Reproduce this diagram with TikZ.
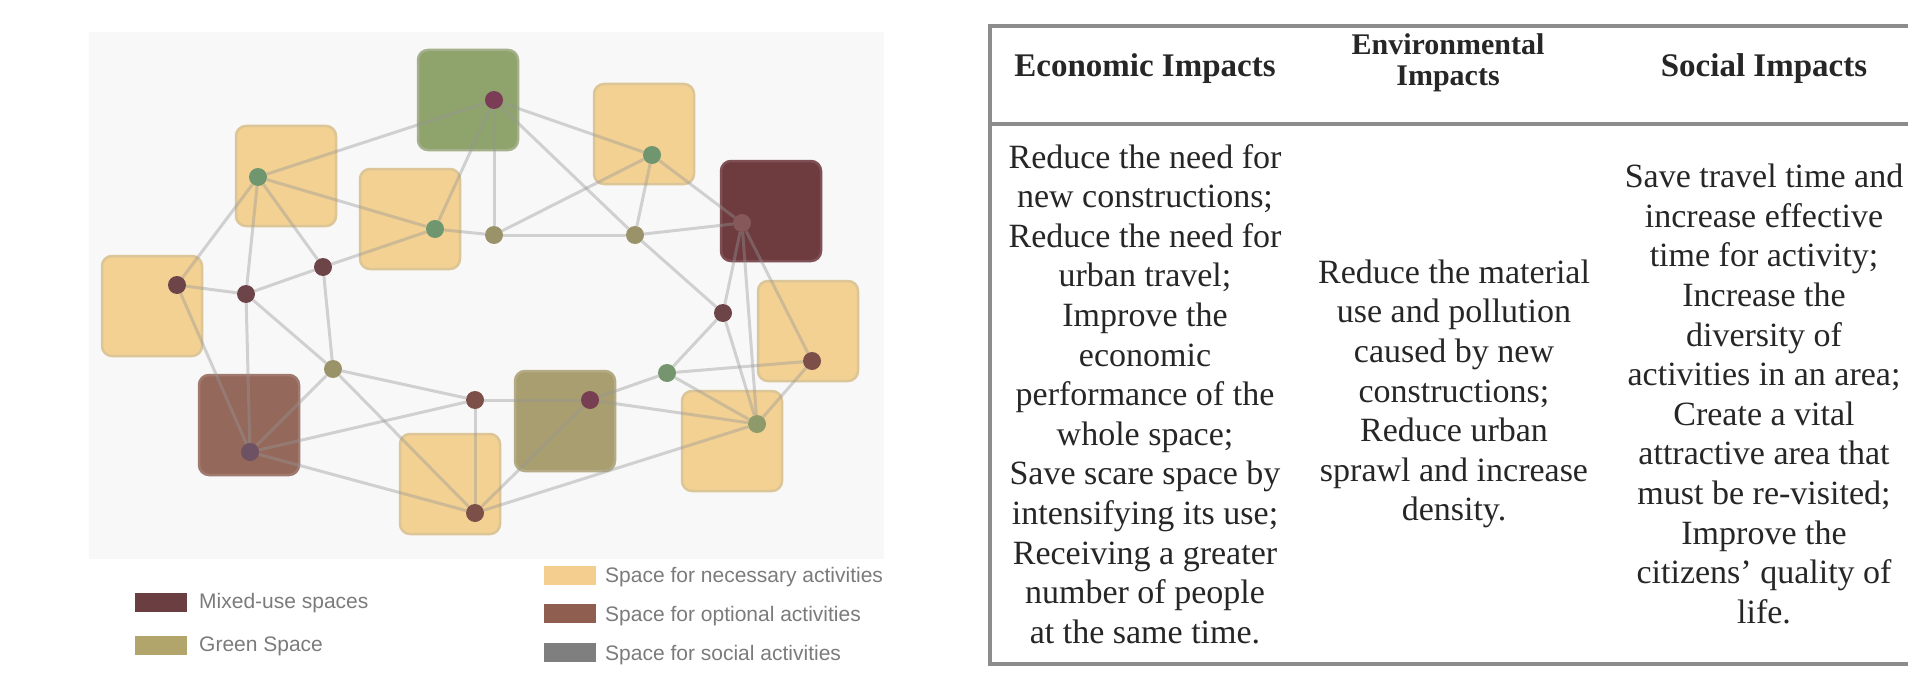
\documentclass[tikz,border=0pt]{standalone}
\usepackage{fontspec}
\setmainfont{Liberation Serif}
\newfontfamily\legendfont{Liberation Sans}
\definecolor{panelc}{HTML}{F8F8F8}
\definecolor{ysq}{HTML}{F2D193}
\definecolor{ysqb}{HTML}{DCC596}
\definecolor{gsq}{HTML}{8FA36C}
\definecolor{gsqb}{HTML}{A3B08A}
\definecolor{msq}{HTML}{6E3B3F}
\definecolor{msqb}{HTML}{7E5055}
\definecolor{bsq}{HTML}{94685A}
\definecolor{bsqb}{HTML}{A07A6E}
\definecolor{ksq}{HTML}{A89E70}
\definecolor{ksqb}{HTML}{B5AC85}
\definecolor{edgec}{HTML}{969696}
\definecolor{dgreen}{HTML}{6F966F}
\definecolor{dmaroon}{HTML}{6D4548}
\definecolor{dpurple}{HTML}{7B3D55}
\definecolor{dolive}{HTML}{9A9268}
\definecolor{dbrown}{HTML}{7C5048}
\definecolor{dpink}{HTML}{86585A}
\definecolor{dgrey}{HTML}{6C5262}
\definecolor{dogreen}{HTML}{8F9A6A}
\definecolor{swmix}{HTML}{6B3F42}
\definecolor{swgreen}{HTML}{B2A56C}
\definecolor{swnec}{HTML}{F4CE8E}
\definecolor{swopt}{HTML}{8F5E50}
\definecolor{swsoc}{HTML}{7F7F7F}
\definecolor{legtext}{HTML}{7B7B7B}
\definecolor{tlinec}{HTML}{8C8C8C}
\definecolor{bodyc}{HTML}{262626}
\pgfdeclarelayer{sqlayer}
\pgfdeclarelayer{edgelayer}
\pgfsetlayers{sqlayer,edgelayer,main}
\begin{document}
\begin{tikzpicture}[x=1pt,y=-1pt,
  sq/.style={rounded corners=10pt, minimum size=100pt, inner sep=0pt, line width=2.5pt},
  ysquare/.style={sq, fill=ysq, draw=ysqb},
  dot/.style={circle, minimum size=18pt, inner sep=0pt},
  edge/.style={draw=edgec, line width=3pt, opacity=0.4},
  sw/.style={minimum width=52pt, minimum height=19pt, inner sep=0pt},
  leg/.style={anchor=west, inner sep=0pt, text=legtext, font=\legendfont\fontsize{21}{24}\selectfont},
  tline/.style={draw=tlinec, line width=3.5pt},
  hdr/.style={align=center, inner sep=0pt, text=bodyc, font=\bfseries\fontsize{33}{28}\selectfont},
  hdrtwo/.style={align=center, inner sep=0pt, text=bodyc, font=\bfseries\fontsize{30}{31}\selectfont},
  body/.style={align=center, inner sep=0pt, text=bodyc, font=\fontsize{34}{39.6}\selectfont}]
\useasboundingbox (0,0) rectangle (1908,674);

% ---------- left panel ----------
\begin{pgfonlayer}{sqlayer}
\fill[panelc] (89,32) rectangle (884,559);
\node[sq, fill=gsq, draw=gsqb] (sqTop) at (468,100) {};
\node[ysquare] (sqA) at (286,176) {};
\node[ysquare] (sqB) at (410,219) {};
\node[ysquare] (sqC) at (644,134) {};
\node[sq, fill=msq, draw=msqb] (sqM) at (771,211) {};
\node[ysquare] (sqD) at (152,306) {};
\node[ysquare] (sqE) at (808,331) {};
\node[sq, fill=bsq, draw=bsqb] (sqBr) at (249,425) {};
\node[sq, fill=ksq, draw=ksqb] (sqK) at (565,421) {};
\node[ysquare] (sqF) at (732,441) {};
\node[ysquare] (sqG) at (450,484) {};
\end{pgfonlayer}

% dots
\node[dot, fill=dpurple] (dTop) at (494,100) {};
\node[dot, fill=dgreen] (dA) at (258,177) {};
\node[dot, fill=dgreen] (dB) at (435,229) {};
\node[dot, fill=dgreen] (dC) at (652,155) {};
\node[dot, fill=dpink] (dM) at (742,223) {};
\node[dot, fill=dmaroon] (dD) at (177,285) {};
\node[dot, fill=dbrown] (dE) at (812,361) {};
\node[dot, fill=dgrey] (dBr) at (250,452) {};
\node[dot, fill=dpurple!80!dmaroon] (dK) at (590,400) {};
\node[dot, fill=dogreen] (dF) at (757,424) {};
\node[dot, fill=dbrown] (dG) at (475,513) {};
\node[dot, fill=dmaroon] (f1) at (246,294) {};
\node[dot, fill=dmaroon] (f2) at (323,267) {};
\node[dot, fill=dolive] (f3) at (494,235) {};
\node[dot, fill=dolive] (f4) at (635,235) {};
\node[dot, fill=dolive] (f5) at (333,369) {};
\node[dot, fill=dmaroon] (f6) at (723,313) {};
\node[dot, fill=dgreen!85!dolive] (f7) at (667,373) {};
\node[dot, fill=dbrown] (f8) at (475,400) {};

% edges
\begin{pgfonlayer}{edgelayer}
\foreach \a/\b in {dA/dTop, dA/dB, dA/f1, dA/f2, dA/dD,
  dTop/dC, dTop/f3, dTop/f4, dTop/dB,
  dC/f4, dC/f3, dC/dM,
  dB/f3, f3/f4, f4/dM, f4/f6, dM/f6, dM/dE, dM/dF,
  f6/f7, f6/dF, f7/dE, f7/dK, f7/dF, dE/dF, dK/dF, dK/f8, dF/dG,
  dD/f1, dD/dBr, f1/f2, f1/dBr, f1/f5, f2/f5, f2/dB,
  f5/f8, f5/dBr, f5/dG, f8/dG, f8/dBr, dBr/dG, dK/dG}
  \draw[edge] (\a) -- (\b);
\end{pgfonlayer}

% legend
\node[sw, fill=swmix] (swMix) at (161,602) {};
\node[leg] (tMix) at (199,603) {Mixed-use spaces};
\node[sw, fill=swgreen] (swGreen) at (161,645) {};
\node[leg] (tGreen) at (199,646) {Green Space};
\node[sw, fill=swnec] (swNec) at (570,575) {};
\node[leg] (tNec) at (605,577) {Space for necessary activities};
\node[sw, fill=swopt] (swOpt) at (570,613) {};
\node[leg] (tOpt) at (605,616) {Space for optional activities};
\node[sw, fill=swsoc] (swSoc) at (570,652) {};
\node[leg] (tSoc) at (605,655) {Space for social activities};

% ---------- table ----------
\draw[tline] (990,26) -- (1908,26);
\draw[tline] (990,124) -- (1908,124);
\draw[tline] (990,664) -- (1908,664);
\draw[tline] (990,24.25) -- (990,665.75);

\node[hdr, anchor=base] (hEcon) at (1145,77) {Economic Impacts};
\node[hdrtwo] (hEnv) at (1448,63) {Environmental\\Impacts};
\node[hdr, anchor=base] (hSoc) at (1764,77) {Social Impacts};

\node[body] (bEcon) at (1145,394) {Reduce the need for\\new constructions;\\Reduce the need for\\urban travel;\\Improve the\\economic\\performance of the\\whole space;\\Save scare space by\\intensifying its use;\\Receiving a greater\\number of people\\at the same time.};
\node[body] (bEnv) at (1454,394) {Reduce the material\\use and pollution\\caused by new\\constructions;\\Reduce urban\\sprawl and increase\\density.};
\node[body] (bSoc) at (1764,394) {Save travel time and\\increase effective\\time for activity;\\Increase the\\diversity of\\activities in an area;\\Create a vital\\attractive area that\\must be re-visited;\\Improve the\\citizens' quality of\\life.};
\end{tikzpicture}
\end{document}
